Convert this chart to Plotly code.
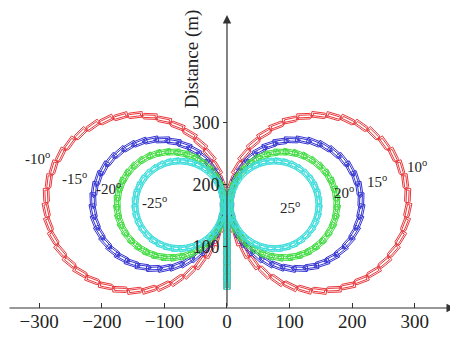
import numpy as np
import plotly.graph_objects as go

# ---- data ----
steer_angles = [10, 15, 20, 25]                 # degrees (right turn +, left turn -)
circle_radius = [144, 106, 87, 72]              # m, turning radius of path
circle_center_x = [147, 110, 90, 76]            # m, |x| of circle centre
circle_center_y = [170, 168, 167, 167]          # m, y of circle centre
vehicles_per_circle = [38, 36, 36, 36]
straight_start_y = [30, 30, 30, 30]             # m, start of the straight approach on x = 0
colors = ["#e8383c", "#3434d2", "#3fdc3f", "#3fdedc"]

x_ticks = [-300, -200, -100, 0, 100, 200, 300]
y_ticks = [100, 200, 300]

label_text_pos = {
    "-10": (-303, 243), "-15": (-243, 210), "-20": (-190, 194), "-25": (-115, 172),
    "10": (303, 229), "15": (240, 205), "20": (187, 188), "25": (101, 163),
}

VEH_L, VEH_W, VEH_TIP = 26.0, 9.0, 5.0
YAW_OUT = np.radians(12.0)   # body yawed outward of the path tangent


def vehicle_outline(px, py, hx, hy, turn_sign):
    """outer + inner outline of one vehicle whose rear is at (px,py), heading (hx,hy)."""
    c, s = np.cos(-turn_sign * YAW_OUT), np.sin(-turn_sign * YAW_OUT)
    hx, hy = hx * c - hy * s, hx * s + hy * c
    nx, ny = -hy, hx
    xs, ys = [], []
    for u0, u1, W, T in ((0.0, VEH_L, VEH_W, VEH_TIP), (3.0, VEH_L - 2.0, VEH_W * 0.45, 3.0)):
        local = [(u0, -W / 2), (u1 - T, -W / 2), (u1, 0), (u1 - T, W / 2),
                 (u0, W / 2), (u0, -W / 2)]
        for u, v in local:
            xs.append(px + u * hx + v * nx)
            ys.append(py + u * hy + v * ny)
        xs.append(None)
        ys.append(None)
    return xs, ys


fig = go.Figure()

for ang, R, cx, cy, n, y0, col in zip(steer_angles, circle_radius, circle_center_x,
                                      circle_center_y, vehicles_per_circle,
                                      straight_start_y, colors):
    X, Y = [], []
    for py in np.arange(y0, cy - 10, 14.0):
        a, b = vehicle_outline(0.0, py, 0.0, 1.0, 0)
        X += a
        Y += b
    t = np.linspace(0, 2 * np.pi, n, endpoint=False)
    for ti in t:   # right turn, clockwise
        phi = np.pi - ti
        px, py = cx + R * np.cos(phi), cy + R * np.sin(phi)
        a, b = vehicle_outline(px, py, np.sin(phi), -np.cos(phi), 1)
        X += a
        Y += b
    for ti in t:   # left turn, counter-clockwise
        phi = ti
        px, py = -cx + R * np.cos(phi), cy + R * np.sin(phi)
        a, b = vehicle_outline(px, py, -np.sin(phi), np.cos(phi), -1)
        X += a
        Y += b
    fig.add_trace(go.Scatter(x=X, y=Y, mode="lines", line=dict(color=col, width=1),
                             hoverinfo="skip", showlegend=False))

font_family = "Liberation Serif, Times New Roman, DejaVu Serif, serif"
annotations = []
for key, (lx, ly) in label_text_pos.items():
    annotations.append(dict(x=lx, y=ly, xref="x", yref="y", text=key + "<sup>o</sup>",
                            showarrow=False, font=dict(family=font_family, size=15, color="#222")))

# page body has an 8 px margin; ranges chosen so the plot lands where the reference has it
xmin, xmax = -349.8, 369.0
ymin, ymax = 0.0, 485.4

annotations.append(dict(x=364, y=0, ax=xmin, ay=0, xref="x", yref="y", axref="x", ayref="y",
                        text="", showarrow=True, arrowhead=2, arrowsize=1.4, arrowwidth=1.2,
                        arrowcolor="#333"))
annotations.append(dict(x=0, y=474, ax=0, ay=0, xref="x", yref="y", axref="x", ayref="y",
                        text="", showarrow=True, arrowhead=2, arrowsize=1.4, arrowwidth=1.2,
                        arrowcolor="#333"))
annotations.append(dict(x=10, y=-65, xref="x", yref="y", text="Distance (m)", showarrow=False,
                        font=dict(family=font_family, size=19, color="#222")))
annotations.append(dict(x=-56, y=404, xref="x", yref="y", text="Distance (m)", showarrow=False,
                        textangle=-90, font=dict(family=font_family, size=19, color="#222")))

fig.update_layout(
    template="none",
    width=450, height=351,
    margin=dict(l=0, r=0, t=0, b=51),
    paper_bgcolor="white", plot_bgcolor="white",
    showlegend=False,
    annotations=annotations,
    xaxis=dict(range=[xmin, xmax], tickvals=x_ticks, ticks="inside", ticklen=5,
               tickcolor="#333", showgrid=False, zeroline=False, showline=False,
               automargin=False, tickfont=dict(family=font_family, size=19, color="#222")),
    yaxis=dict(range=[ymin, ymax], tickvals=y_ticks, ticks="outside", ticklen=4,
               tickcolor="#333", showgrid=False, zeroline=False, showline=False,
               anchor="free", position=(0 - xmin) / (xmax - xmin), automargin=False,
               tickfont=dict(family=font_family, size=18, color="#222")),
)

fig.write_html("out.html")
